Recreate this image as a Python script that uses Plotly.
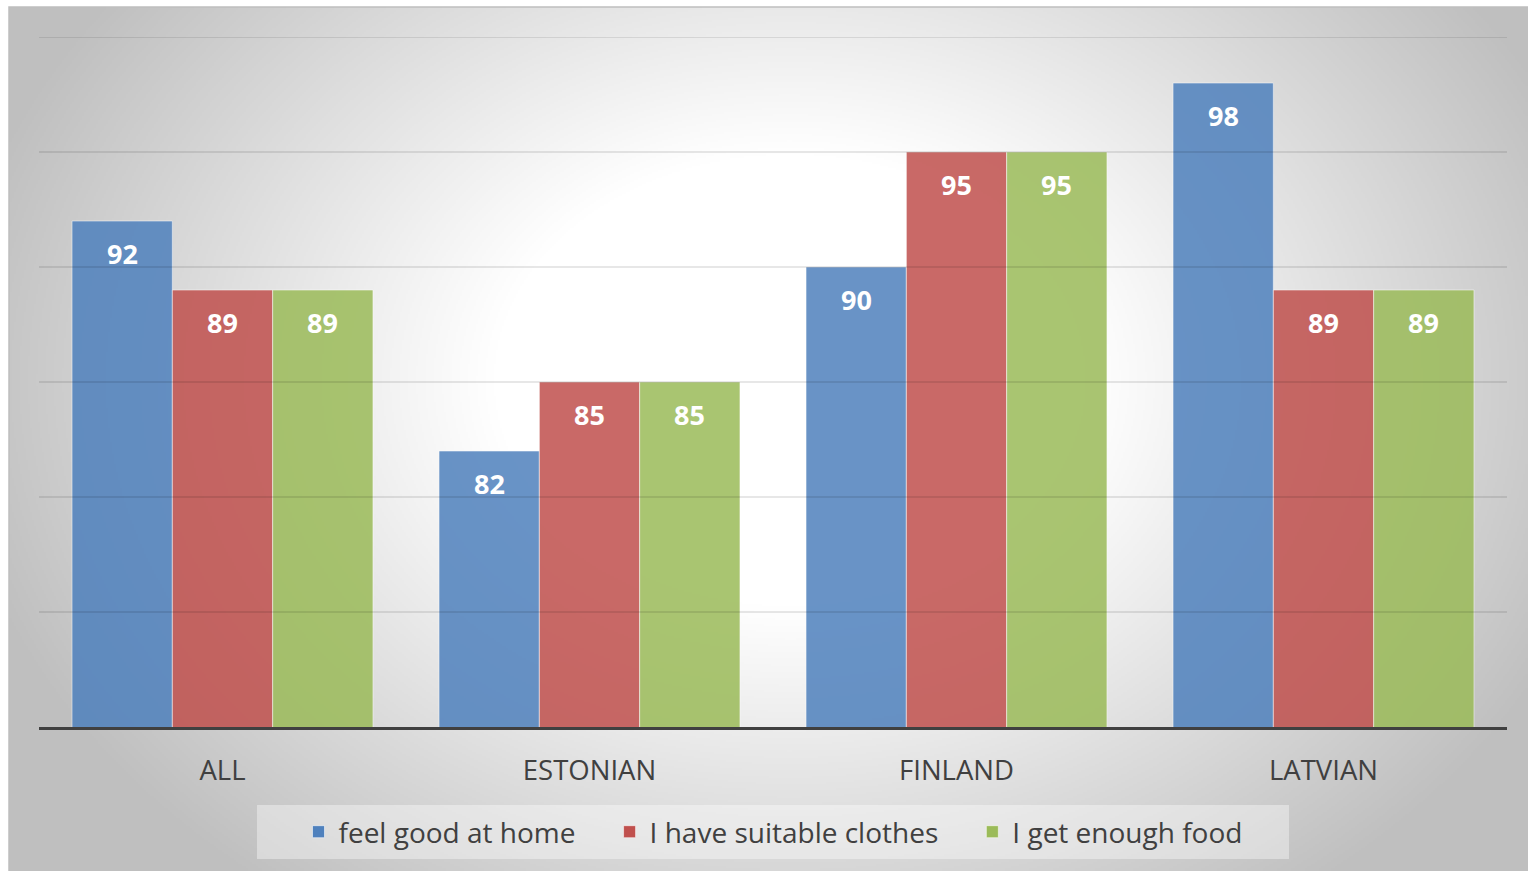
import base64
import struct
import zlib

import numpy as np
import plotly.graph_objects as go

# ---------------- data ----------------
categories = ["ALL", "ESTONIAN", "FINLAND", "LATVIAN"]
series_names = ["feel good at home", "I have suitable clothes", "I get enough food"]
feel_good_at_home = [92, 82, 90, 98]
suitable_clothes = [89, 85, 95, 89]
enough_food = [89, 85, 95, 89]
series_values = [feel_good_at_home, suitable_clothes, enough_food]
series_colors = ["#4F81BD", "#C0504D", "#9BBB59"]
y_range = [70, 100]
grid_ticks = [75, 80, 85, 90, 95, 100]

# ---------------- layout constants ----------------
W, H = 1528, 871
ML, MR, MT, MB = 39, 21, 37, 144
PW, PH = W - ML - MR, H - MT - MB
BARGAP = 0.18
TEXT = "#404040"
FONT = "Open Sans"
NBSP = "\u00a0"

# frame of the chart area (pixels)
FX0, FY0, FX1, FY1 = 9, 7, W, H


def px_to_paper_x(px):
    return (px - ML) / PW


def px_to_paper_y(py):
    return 1 - (py - MT) / PH


# ---------------- radial gradient background as PNG ----------------
def make_gradient_png():
    iw, ih = 760, 432
    xs = np.linspace(FX0, FX1, iw)
    ys = np.linspace(FY0, FY1, ih)
    X, Y = np.meshgrid(xs, ys)
    cx, cy, rx, ry = 790.0, 380.0, 850.0, 650.0
    t = np.sqrt(((X - cx) / rx) ** 2 + ((Y - cy) / ry) ** 2)
    core = 0.35
    s = np.clip((t - core) / (1 - core), 0, 1)
    val = 255 - 64 * s
    arr = np.clip(val, 0, 255).astype(np.uint8)
    raw = b"".join(b"\x00" + arr[i].tobytes() for i in range(ih))

    def chunk(tag, data):
        c = struct.pack(">I", len(data)) + tag + data
        return c + struct.pack(">I", zlib.crc32(tag + data) & 0xFFFFFFFF)

    png = b"\x89PNG\r\n\x1a\n"
    png += chunk(b"IHDR", struct.pack(">IIBBBBB", iw, ih, 8, 0, 0, 0, 0))
    png += chunk(b"IDAT", zlib.compress(raw, 9))
    png += chunk(b"IEND", b"")
    return "data:image/png;base64," + base64.b64encode(png).decode()


fig = go.Figure()
n_series = len(series_values)
for k, (name, vals, col) in enumerate(zip(series_names, series_values, series_colors)):
    # extra trailing spacing between legend entries (not after the last one)
    label = name + (NBSP * 4 if k < n_series - 1 else "")
    fig.add_trace(go.Bar(
        x=categories, y=vals, name=label,
        marker=dict(color=col, opacity=0.85,
                    line=dict(color="rgba(255,255,255,0.55)", width=1)),
        hovertemplate="%{x}: %{y}<extra>" + name + "</extra>",
    ))

# data labels
bar_px = PW / len(categories) * (1 - BARGAP) / n_series
annotations = []
for i, vals in enumerate(series_values):
    off = (i - (n_series - 1) / 2) * bar_px
    for c, v in zip(categories, vals):
        annotations.append(dict(
            x=c, y=v, xref="x", yref="y", text=f"<b>{v}</b>",
            showarrow=False, xshift=off, yshift=-32, yanchor="middle",
            font=dict(family=FONT, size=27, color="white"),
        ))

shapes = []
# legend background box
shapes.append(dict(
    type="rect", xref="paper", yref="paper", layer="below",
    x0=px_to_paper_x(257), x1=px_to_paper_x(1289),
    y0=px_to_paper_y(859), y1=px_to_paper_y(805),
    line=dict(width=0), fillcolor="rgba(255,255,255,0.38)",
))
# gridlines drawn over the semi-transparent bars
for gt in grid_ticks:
    shapes.append(dict(
        type="line", xref="paper", yref="y", layer="above",
        x0=0, x1=1, y0=gt, y1=gt,
        line=dict(color="rgba(0,0,0,0.19)", width=1),
    ))
# chart frame
shapes.append(dict(
    type="rect", xref="paper", yref="paper", layer="below",
    x0=px_to_paper_x(FX0), x1=px_to_paper_x(FX1 + 3),
    y0=px_to_paper_y(FY1 + 3), y1=px_to_paper_y(FY0),
    line=dict(color="#BEBEBE", width=1.5), fillcolor="rgba(0,0,0,0)",
))

fig.update_layout(
    width=W, height=H,
    margin=dict(l=ML, r=MR, t=MT, b=MB, pad=0),
    paper_bgcolor="white",
    plot_bgcolor="rgba(0,0,0,0)",
    barmode="group", bargap=BARGAP, bargroupgap=0,
    font=dict(family=FONT, color=TEXT),
    showlegend=True,
    legend=dict(
        orientation="h", x=0.5, xanchor="center",
        y=px_to_paper_y(832), yanchor="middle",
        bgcolor="rgba(0,0,0,0)", font=dict(family=FONT, size=28, color=TEXT),
        traceorder="normal",
    ),
    xaxis=dict(
        type="category", showgrid=False, zeroline=False,
        showline=True, linecolor="#404040", linewidth=3,
        ticks="outside", ticklen=17, tickcolor="rgba(0,0,0,0)",
        tickfont=dict(family=FONT, size=27.5, color=TEXT),
    ),
    yaxis=dict(
        range=y_range, showgrid=False, zeroline=False,
        showticklabels=False, ticks="",
    ),
    annotations=annotations,
    shapes=shapes,
    images=[dict(
        source=make_gradient_png(), xref="paper", yref="paper",
        x=px_to_paper_x(FX0), y=px_to_paper_y(FY0),
        sizex=(FX1 - FX0) / PW, sizey=(FY1 - FY0) / PH,
        sizing="stretch", xanchor="left", yanchor="top", layer="below",
    )],
)

fig.write_html("out.html")
